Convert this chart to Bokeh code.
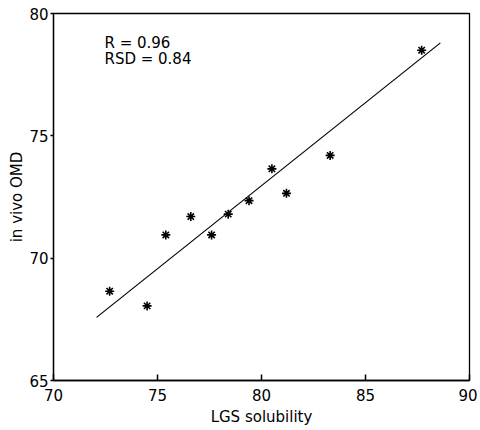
from bokeh.plotting import figure
from bokeh.models import Label, FixedTicker, Range1d
from bokeh.embed import file_html
from bokeh.resources import INLINE

# Data
lgs_solubility = [72.7, 74.5, 75.4, 76.6, 77.6, 78.4, 79.4, 80.5, 81.2, 83.3, 87.7]
in_vivo_omd = [68.65, 68.05, 70.95, 71.7, 70.95, 71.8, 72.35, 73.65, 72.65, 74.2, 78.5]
fit_x = [72.07, 88.6]
fit_y = [67.58, 78.8]
x_ticks = [70, 75, 80, 85, 90]
y_ticks = [65, 70, 75, 80]
stats_lines = ["R = 0.96", "RSD = 0.84"]

FONT = "DejaVu Sans"

p = figure(width=477, height=425, output_backend="svg", toolbar_location=None,
           x_range=Range1d(70, 90), y_range=Range1d(65, 80),
           min_border_left=53, min_border_top=13, min_border_right=8, min_border_bottom=45)
p.frame_width = 416
p.frame_height = 367

p.xgrid.visible = False
p.ygrid.visible = False
p.outline_line_color = "black"
p.outline_line_width = 1.3
p.background_fill_color = "white"
p.border_fill_color = "white"

p.line(fit_x, fit_y, line_color="black", line_width=1.2)
p.scatter(lgs_solubility, in_vivo_omd, marker="asterisk", size=9,
          line_color="black", line_width=1.6)

for ax in (p.xaxis[0], p.yaxis[0]):
    ax.axis_line_color = "black"
    ax.axis_line_width = 1.3
    ax.major_tick_line_color = "black"
    ax.major_tick_line_width = 1.5
    ax.minor_tick_line_color = None
    ax.major_label_text_font = FONT
    ax.major_label_text_font_size = "15px"
    ax.major_label_text_color = "black"
    ax.axis_label_text_font = FONT
    ax.axis_label_text_font_size = "15px"
    ax.axis_label_text_font_style = "normal"
    ax.axis_label_text_color = "black"

p.xaxis.ticker = FixedTicker(ticks=x_ticks)
p.yaxis.ticker = FixedTicker(ticks=y_ticks)
p.xaxis.major_tick_in = 6
p.xaxis.major_tick_out = 0
p.xaxis.major_label_standoff = 8
p.xaxis.axis_label = "LGS solubility"
p.xaxis.axis_label_standoff = 4
p.yaxis.major_tick_in = 0
p.yaxis.major_tick_out = 3
p.yaxis.major_label_standoff = 2
p.yaxis.axis_label = "in vivo OMD"
p.yaxis.axis_label_standoff = 0

ys = [78.79, 78.15]
for txt, yy in zip(stats_lines, ys):
    p.add_layout(Label(x=72.45, y=yy, text=txt, text_font=FONT,
                       text_font_size="15px", text_color="black",
                       text_baseline="alphabetic", text_align="left"))

open("out.html", "w").write(file_html(p, INLINE))
